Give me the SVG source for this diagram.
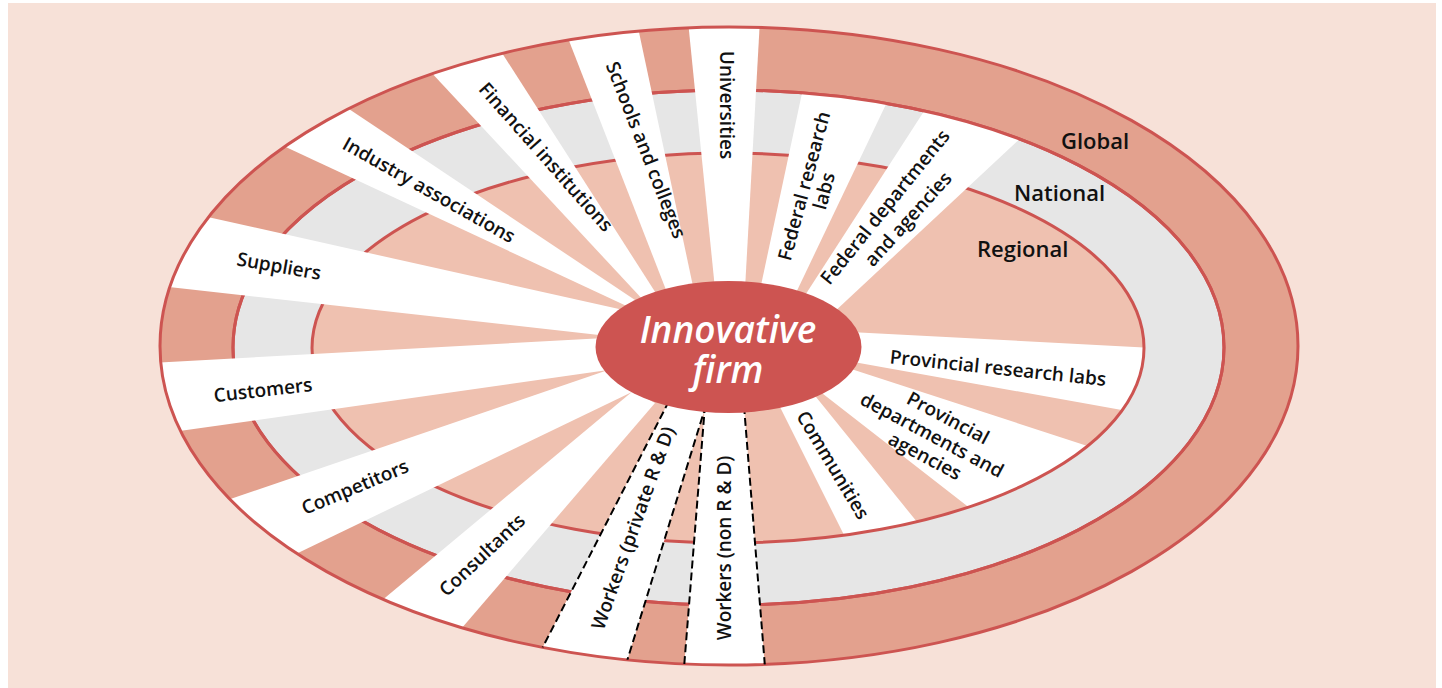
<svg xmlns="http://www.w3.org/2000/svg" width="1442" height="688" viewBox="0 0 1442 688">
<defs>
<style>
.spoke{fill:#fff}
.lbl{font-family:"Open Sans","Liberation Sans",sans-serif;font-weight:600;font-size:19px;fill:#111;text-anchor:middle}
.ringlbl{font-family:"Open Sans","Liberation Sans",sans-serif;font-weight:600;font-size:22px;fill:#111}
.line{fill:none;stroke:#CD5451;stroke-width:3}
.dash{fill:none;stroke:#000;stroke-width:2;stroke-dasharray:8 4}
.global{fill:#E3A18E}
.national{fill:#E6E6E6}
.regional{fill:#EFC1B0}
</style>
<clipPath id="clipOuter"><ellipse cx="729" cy="346" rx="569" ry="319"/></clipPath>
<clipPath id="clipMid"><ellipse cx="728.5" cy="347.5" rx="495.5" ry="257.5"/></clipPath>
<clipPath id="clipInner"><ellipse cx="728" cy="348" rx="416" ry="195"/></clipPath>
</defs>
<rect x="8" y="3" width="1428" height="685" fill="#F7E1D8"/>
<g id="rings">
<ellipse class="global" cx="729" cy="346" rx="569" ry="319"/>
<ellipse class="national" cx="728.5" cy="347.5" rx="495.5" ry="257.5"/>
<ellipse class="line" cx="728.5" cy="347.5" rx="495.5" ry="257.5"/>
<ellipse class="regional" cx="728" cy="348" rx="416" ry="195"/>
</g>
<g id="regional-spokes" clip-path="url(#clipInner)">
<g id="communities"><polygon class="spoke" points="778,403 812,392 934,543 856,559"/></g>
<g id="provincial-departments"><polygon class="spoke" points="818,390 845,367 1112,454 989,523"/></g>
<g id="provincial-labs"><polygon class="spoke" points="850,332 1173,349 1150,415 848,361"/></g>
</g>
<ellipse cx="728" cy="348" rx="416" ry="195" class="line"/>
<g id="national-spokes" clip-path="url(#clipMid)">
<g id="federal-departments"><polygon class="spoke" points="802,300 939,88 1040,120 832,314"/></g>
<g id="federal-labs"><polygon class="spoke" points="760,290 808,65 899,77 794,297"/></g>
</g>
<ellipse cx="728.5" cy="347.5" rx="495.5" ry="257.5" class="line"/>
<g id="global-spokes" clip-path="url(#clipOuter)">
<g id="suppliers"><polygon class="spoke" points="181,211 628,311 608,336 142,284"/></g>
<g id="customers"><polygon class="spoke" points="132,364 605,338 608,370 152,435"/></g>
<g id="competitors"><polygon class="spoke" points="204,508 611,369 632,392 271,566"/></g>
<g id="consultants"><polygon class="spoke" points="362,617 633,391 655,403 443,650"/></g>
<g id="workers-private"><polygon class="spoke" points="529,674 669,401 706,405 619,687"/></g>
<g id="workers-non"><polygon class="spoke" points="682,693 705,405 744,406 767,692"/></g>
<g id="universities"><polygon class="spoke" points="715,289 686,1 761,1 745,289"/></g>
<g id="schools"><polygon class="spoke" points="668,295 559,15 633,4 694,291"/></g>
<g id="financial"><polygon class="spoke" points="645,302 415,55 486,28 659,298"/></g>
<g id="industry"><polygon class="spoke" points="633,309 260,135 325,93 641,304"/></g>
</g>
<ellipse cx="729" cy="346" rx="569" ry="319" class="line"/>
<g id="dividers" clip-path="url(#clipOuter)">
<line class="dash" x1="669" y1="401" x2="529" y2="674"/>
<line class="dash" x1="706" y1="405" x2="619" y2="687"/>
<line class="dash" x1="705" y1="405" x2="682" y2="693"/>
<line class="dash" x1="744" y1="406" x2="767" y2="692"/>
</g>
<g id="innovative-firm">
<ellipse cx="728.5" cy="347" rx="133" ry="66" fill="#CD5451"/>
<text text-anchor="middle" font-family="'Open Sans','Liberation Sans',sans-serif" font-style="italic" font-weight="600" font-size="37" fill="#fff"><tspan x="728" y="343">Innovative</tspan><tspan x="728" y="383">firm</tspan></text>
</g>
<g id="labels">
<text class="lbl" transform="translate(279,266) rotate(10)" dy="0.35em">Suppliers</text>
<text class="lbl" transform="translate(263,390) rotate(-6.5)" dy="0.35em">Customers</text>
<text class="lbl" transform="translate(355,487) rotate(-22.7)" dy="0.35em">Competitors</text>
<text class="lbl" transform="translate(482,555) rotate(-43.5)" dy="0.35em">Consultants</text>
<text class="lbl" transform="translate(633,528) rotate(-70.4)" dy="0.35em">Workers (private R &amp; D)</text>
<text class="lbl" transform="translate(724,548) rotate(-90)" dy="0.35em">Workers (non R &amp; D)</text>
<text class="lbl" transform="translate(833,465) rotate(59)" dy="0.35em">Communities</text>
<text class="lbl" transform="translate(948,418) rotate(28)" dy="0.35em">Provincial</text>
<text class="lbl" transform="translate(932,435) rotate(28)" dy="0.35em">departments and</text>
<text class="lbl" transform="translate(925,456) rotate(28)" dy="0.35em">agencies</text>
<text class="lbl" transform="translate(998,368) rotate(6)" dy="0.35em">Provincial research labs</text>
<text class="lbl" transform="translate(885,207) rotate(-51)" dy="0.35em">Federal departments</text>
<text class="lbl" transform="translate(908,219) rotate(-48)" dy="0.35em">and agencies</text>
<text class="lbl" transform="translate(804,186) rotate(-75)" dy="0.35em">Federal research</text>
<text class="lbl" transform="translate(824,191) rotate(-75)" dy="0.35em">labs</text>
<text class="lbl" transform="translate(727,105) rotate(90)" dy="0.35em">Universities</text>
<text class="lbl" transform="translate(646,150) rotate(68.5)" dy="0.35em">Schools and colleges</text>
<text class="lbl" transform="translate(546,157) rotate(48.5)" dy="0.35em">Financial institutions</text>
<text class="lbl" transform="translate(429,190) rotate(29.5)" dy="0.35em">Industry associations</text>
<text class="ringlbl" x="1061" y="149">Global</text>
<text class="ringlbl" x="1014" y="201">National</text>
<text class="ringlbl" x="977" y="257">Regional</text>
</g>
</svg>
